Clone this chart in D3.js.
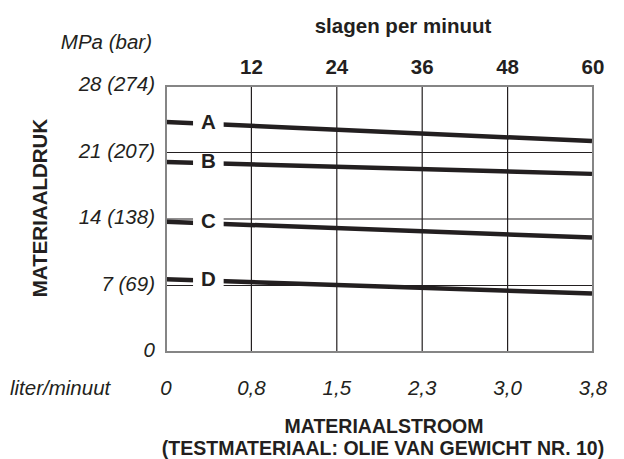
<!DOCTYPE html>
<html>
<head>
<meta charset="utf-8">
<script src="https://cdn.jsdelivr.net/npm/d3@7"></script>
<style>
  body { margin: 0; background: #fff; }
  svg { display: block; font-family: "Liberation Sans", Arial, Helvetica, sans-serif; }
</style>
</head>
<body>
<div id="chart"></div>
<script>
// strokes per minute (top axis) and matching flow (bottom axis)
const strokeTicks = [0, 12, 24, 36, 48, 60];
const flowLabels = ['0', '0,8', '1,5', '2,3', '3,0', '3,8'];

// pressure axis (MPa) and its labels with bar in brackets
const pressureTicks = [0, 7, 14, 21, 28];
const pressureLabels = ['0', '7 (69)', '14 (138)', '21 (207)', '28 (274)'];

// pump curves, pressure at 0 and 60 strokes
const curveNames = ['A', 'B', 'C', 'D'];
const curveStart = [24.2, 20.0, 13.7, 7.65];
const curveEnd = [22.2, 18.75, 12.05, 6.15];

const W = 624, H = 459;
const margin = { top: 86, right: 31, bottom: 107, left: 166 };
const ink = '#231f20';
const fs = 20.5;

const svg = d3.select('#chart').append('svg')
  .attr('width', W)
  .attr('height', H);

const x = d3.scaleLinear().domain([0, 60]).range([margin.left, W - margin.right]);
const y = d3.scaleLinear().domain([0, 28]).range([H - margin.bottom, margin.top]);

// grid
const grid = svg.append('g').attr('stroke', ink).attr('stroke-width', 1.2);
grid.selectAll('.vgrid')
  .data(strokeTicks.slice(1, -1))
  .join('line')
  .attr('x1', d => x(d)).attr('x2', d => x(d))
  .attr('y1', y(0)).attr('y2', y(28));
grid.selectAll('.hgrid')
  .data(pressureTicks.slice(1, -1))
  .join('line')
  .attr('x1', x(0)).attr('x2', x(60))
  .attr('y1', d => y(d)).attr('y2', d => y(d));

// curves
const curves = curveNames.map((name, i) => ({ name, start: curveStart[i], end: curveEnd[i] }));

svg.append('g').selectAll('line')
  .data(curves)
  .join('line')
  .attr('x1', x(0)).attr('x2', x(60) - 1)
  .attr('y1', d => y(d.start)).attr('y2', d => y(d.end))
  .attr('stroke', ink)
  .attr('stroke-width', 4.5);

// white gap behind the letters
const gapFrom = 3.8, gapTo = 8.1;
const slopeAt = (d, s) => y(d.start + (d.end - d.start) * s / 60);
svg.append('g').selectAll('rect')
  .data(curves)
  .join('rect')
  .attr('x', x(gapFrom))
  .attr('width', x(gapTo) - x(gapFrom))
  .attr('y', d => slopeAt(d, 6) - 8)
  .attr('height', 16)
  .attr('fill', '#fff');

svg.append('g').selectAll('text')
  .data(curves)
  .join('text')
  .attr('x', x((gapFrom + gapTo) / 2))
  .attr('y', d => slopeAt(d, 6) + 5)
  .attr('text-anchor', 'middle')
  .attr('font-weight', 'bold')
  .attr('font-size', fs)
  .attr('fill', ink)
  .text(d => d.name);

// frame
svg.append('rect')
  .attr('x', x(0)).attr('y', y(28))
  .attr('width', x(60) - x(0)).attr('height', y(0) - y(28))
  .attr('fill', 'none')
  .attr('stroke', '#858585')
  .attr('stroke-width', 2);

// top axis
svg.append('g').selectAll('text')
  .data(strokeTicks.slice(1))
  .join('text')
  .attr('x', d => x(d))
  .attr('y', 74)
  .attr('text-anchor', 'middle')
  .attr('font-weight', 'bold')
  .attr('font-size', fs)
  .attr('fill', ink)
  .text(d => d);

svg.append('text')
  .attr('x', 403).attr('y', 33)
  .attr('text-anchor', 'middle')
  .attr('font-weight', 'bold')
  .attr('font-size', fs)
  .attr('fill', ink)
  .text('slagen per minuut');

// left axis
svg.append('g').selectAll('text')
  .data(pressureTicks)
  .join('text')
  .attr('x', 155)
  .attr('y', d => y(d) + 5)
  .attr('text-anchor', 'end')
  .attr('font-style', 'italic')
  .attr('font-size', fs)
  .attr('fill', ink)
  .text((d, i) => pressureLabels[i]);

svg.append('text')
  .attr('x', 152).attr('y', 49)
  .attr('text-anchor', 'end')
  .attr('font-style', 'italic')
  .attr('font-size', fs)
  .attr('fill', ink)
  .text('MPa (bar)');

svg.append('text')
  .attr('transform', 'translate(47,208) rotate(-90)')
  .attr('text-anchor', 'middle')
  .attr('font-weight', 'bold')
  .attr('font-size', fs)
  .attr('fill', ink)
  .text('MATERIAALDRUK');

// bottom axis
svg.append('g').selectAll('text')
  .data(strokeTicks)
  .join('text')
  .attr('x', d => x(d))
  .attr('y', 395)
  .attr('text-anchor', 'middle')
  .attr('font-style', 'italic')
  .attr('font-size', fs)
  .attr('fill', ink)
  .text((d, i) => flowLabels[i]);

svg.append('text')
  .attr('x', 10).attr('y', 395)
  .attr('font-style', 'italic')
  .attr('font-size', fs)
  .attr('fill', ink)
  .text('liter/minuut');

// two-line footer, kept tight like the original
svg.append('text')
  .attr('x', 384).attr('y', 433)
  .attr('text-anchor', 'middle')
  .attr('font-weight', 'bold')
  .attr('font-size', 19.5)
  .attr('fill', ink)
  .text('MATERIAALSTROOM');
svg.append('text')
  .attr('x', 383).attr('y', 455)
  .attr('text-anchor', 'middle')
  .attr('font-weight', 'bold')
  .attr('font-size', 19.5)
  .attr('fill', ink)
  .text('(TESTMATERIAAL: OLIE VAN GEWICHT NR. 10)');
</script>
</body>
</html>
